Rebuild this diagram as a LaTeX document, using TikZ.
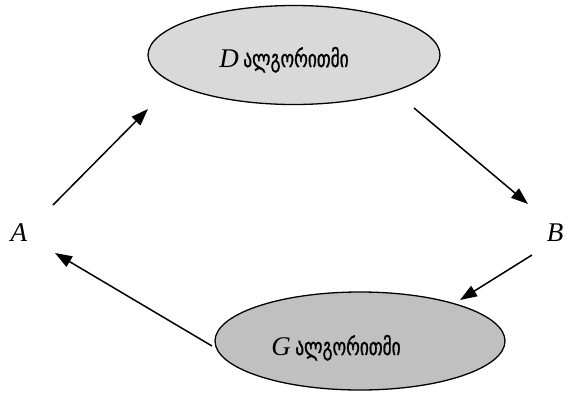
\documentclass[tikz,border=0pt]{standalone}
\usepackage{fontspec}
\setmainfont{Liberation Serif}
\newfontfamily\geofont[FakeBold=1.2]{DejaVu Sans}
\usetikzlibrary{arrows.meta,shapes.geometric}
\newcommand{\geotext}[1]{\scalebox{0.72}[1]{\geofont\fontsize{24}{28}\selectfont #1}}
\begin{document}
\begin{tikzpicture}[x=1pt,y=-1pt,
  algo/.style={ellipse,draw,line width=1.3pt,minimum width=292pt,minimum height=99pt,inner sep=0pt},
  lbl/.style={font=\fontsize{27}{30}\selectfont},
  conn/.style={line width=1.5pt,-{Triangle[length=17pt,width=12pt]}}]
\useasboundingbox (0,0) rectangle (573,394);
\node[algo,fill={rgb,255:red,217;green,217;blue,217}] (D) at (294,55) {};
\node[algo,fill={rgb,255:red,192;green,192;blue,192},minimum width=290pt,minimum height=98pt] (G) at (360,341) {};
\node[lbl,anchor=base] (Dt) at (284,67) {\textit{D}\,\geotext{ალგორითმი}};
\node[lbl,anchor=base] (Gt) at (336,355) {\textit{G}\,\geotext{ალგორითმი}};
\node[lbl,anchor=base] (A) at (19,241) {\textit{A}};
\node[lbl,anchor=base] (B) at (555,241) {\textit{B}};
\coordinate (a1) at (53,205);
\coordinate (a2) at (148,109);
\coordinate (b1) at (414,108);
\coordinate (b2) at (528,204);
\coordinate (c1) at (532,255);
\coordinate (c2) at (460,300);
\coordinate (d1) at (212,346);
\coordinate (d2) at (55,253);
\draw[conn] (a1) -- (a2);
\draw[conn] (b1) -- (b2);
\draw[conn] (c1) -- (c2);
\draw[conn] (d1) -- (d2);
\end{tikzpicture}
\end{document}
